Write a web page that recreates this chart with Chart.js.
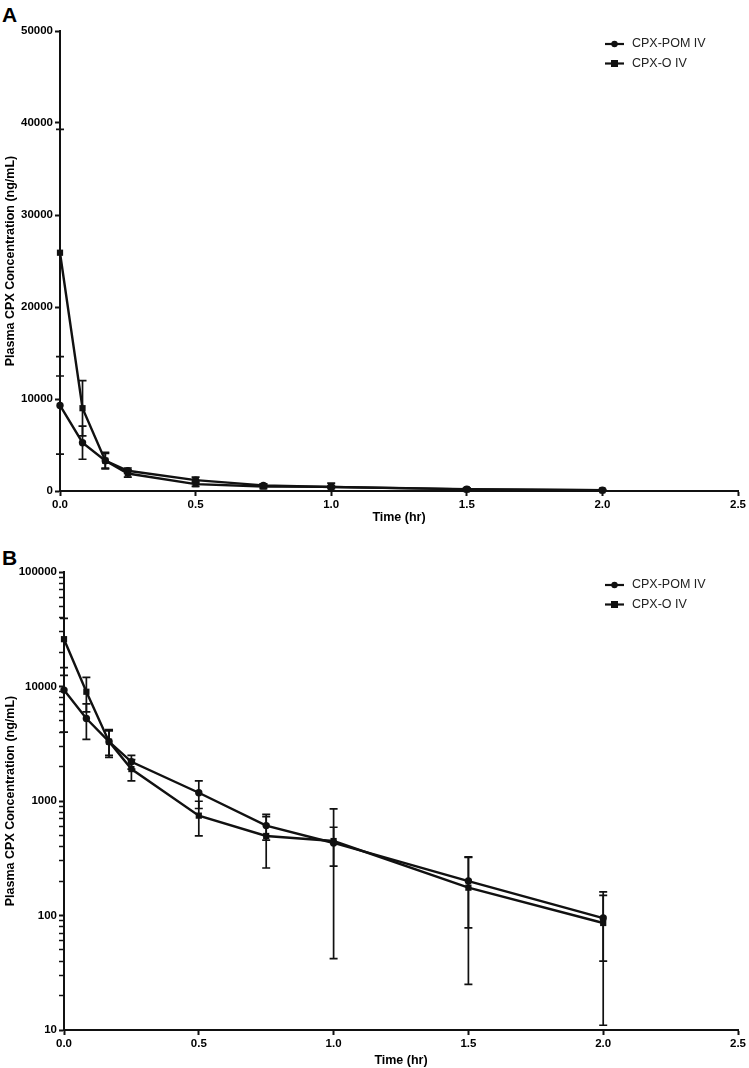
<!DOCTYPE html>
<html lang="en">
<head>
<meta charset="UTF-8">
<title>Plasma CPX Concentration</title>
<script src="https://cdn.jsdelivr.net/npm/chart.js"></script>
<style>
  body { margin: 0; background: #fff; font-family: Arial, "Liberation Sans", sans-serif; }
  .panel { position: absolute; left: 0; }
  .letter { position: absolute; left: 2px; font-weight: bold; font-size: 21px; line-height: 21px; color: #000; }
</style>
</head>
<body>
<div class="letter" style="top:4px">A</div>
<div class="letter" style="top:547px">B</div>
<div class="panel" style="top:0"><canvas id="chartA" width="749" height="525"></canvas></div>
<div class="panel" style="top:525px"><canvas id="chartB" width="749" height="543"></canvas></div>

<script>
// data (mean and SD)
const times = [0, 0.083, 0.167, 0.25, 0.5, 0.75, 1.0, 1.5, 2.0];
const pomMean = [9300, 5250, 3300, 2200, 1180, 610, 430, 200, 95];
const pomSd = [5300, 1800, 800, 300, 320, 155, 160, 122, 55];
const oMean = [25900, 9000, 3300, 1900, 745, 495, 447, 175, 86];
const oSd = [13400, 3000, 900, 400, 250, 235, 405, 150, 75];

const xTicks = [0, 0.5, 1.0, 1.5, 2.0, 2.5];
const yTicksA = [0, 10000, 20000, 30000, 40000, 50000];
const yTicksB = [10, 100, 1000, 10000, 100000];

const seriesNames = ['CPX-POM IV', 'CPX-O IV'];
const INK = '#111';
const tickFont = { family: 'Arial, "Liberation Sans", sans-serif', size: 11.5, weight: 'bold' };
const titleFont = { family: 'Arial, "Liberation Sans", sans-serif', size: 12.5, weight: 'bold' };

function points(means) {
    return times.map((t, i) => ({ x: t, y: means[i] }));
}

function makeDatasets() {
    return [
        { label: seriesNames[0], data: points(pomMean), sd: pomSd, pointStyle: 'circle', pointRadius: 3.7 },
        { label: seriesNames[1], data: points(oMean), sd: oSd, pointStyle: 'rect', pointRadius: 4.4 }
    ].map(d => Object.assign(d, {
        borderColor: INK, backgroundColor: INK, borderWidth: 2.4,
        pointBackgroundColor: INK, pointBorderColor: INK, pointBorderWidth: 0,
        tension: 0, clip: false
    }));
}

// error bars, drawn through the chart scales
const errorBars = {
    id: 'errorBars',
    afterDatasetsDraw(chart) {
        const { ctx, scales: { x, y } } = chart;
        ctx.save();
        ctx.strokeStyle = INK;
        ctx.lineWidth = 1.7;
        chart.data.datasets.forEach(ds => {
            ds.data.forEach((pt, i) => {
                const px = x.getPixelForValue(pt.x);
                const hi = pt.y + ds.sd[i];
                const lo = pt.y - ds.sd[i];
                const pHi = y.getPixelForValue(hi);
                const pLo = lo > 0 ? y.getPixelForValue(lo) : y.bottom;
                ctx.beginPath();
                ctx.moveTo(px, pHi);
                ctx.lineTo(px, pLo);
                ctx.moveTo(px - 4, pHi);
                ctx.lineTo(px + 4, pHi);
                if (lo > 0) {
                    ctx.moveTo(px - 4, pLo);
                    ctx.lineTo(px + 4, pLo);
                }
                ctx.stroke();
            });
        });
        ctx.restore();
    }
};

// legend in the top right of the plot area
const cornerLegend = {
    id: 'cornerLegend',
    afterDraw(chart) {
        const { ctx, chartArea } = chart;
        ctx.save();
        chart.data.datasets.forEach((ds, i) => {
            const yy = chartArea.top + 13 + i * 19.5;
            const x0 = chartArea.right - 133;
            ctx.strokeStyle = INK;
            ctx.lineWidth = 2.2;
            ctx.beginPath();
            ctx.moveTo(x0, yy);
            ctx.lineTo(x0 + 19, yy);
            ctx.stroke();
            ctx.fillStyle = INK;
            if (ds.pointStyle === 'circle') {
                ctx.beginPath();
                ctx.arc(x0 + 9.5, yy, 3.2, 0, Math.PI * 2);
                ctx.fill();
            } else {
                ctx.fillRect(x0 + 6, yy - 3.5, 7, 7);
            }
            ctx.fillStyle = '#222';
            ctx.font = '12.5px Arial, "Liberation Sans", sans-serif';
            ctx.textBaseline = 'middle';
            ctx.fillText(ds.label, x0 + 27, yy);
        });
        ctx.restore();
    }
};

function axisGrid() {
    return {
        drawOnChartArea: false, drawTicks: true, tickLength: 5,
        tickColor: INK, tickWidth: 2
    };
}

function xScale(height) {
    return {
        type: 'linear', min: 0, max: 2.5,
        afterBuildTicks: s => { s.ticks = xTicks.map(v => ({ value: v })); },
        afterFit: s => { s.height = height; },
        border: { color: INK, width: 2 },
        grid: axisGrid(),
        ticks: { color: '#000', font: tickFont, padding: 2, maxRotation: 0, autoSkip: false,
                 callback: v => v.toFixed(1) },
        title: { display: true, text: 'Time (hr)', color: '#000', font: titleFont, padding: { top: 3, bottom: 0 } }
    };
}

function yTitle() {
    return { display: true, text: 'Plasma CPX Concentration (ng/mL)', color: '#000', font: titleFont,
             padding: { top: 3, bottom: 0 } };
}

new Chart(document.getElementById('chartA'), {
    type: 'line',
    data: { datasets: makeDatasets() },
    options: {
        responsive: false, animation: false,
        layout: { padding: { top: 31, right: 11, left: 0, bottom: 0 } },
        plugins: { legend: { display: false }, tooltip: { enabled: false } },
        scales: {
            x: xScale(34),
            y: {
                type: 'linear', min: 0, max: 50000,
                afterBuildTicks: s => { s.ticks = yTicksA.map(v => ({ value: v })); },
                afterFit: s => { s.width = 60; },
                border: { color: INK, width: 2 },
                grid: axisGrid(),
                ticks: { color: '#000', font: tickFont, padding: 2, autoSkip: false,
                         callback: v => String(v) },
                title: yTitle()
            }
        }
    },
    plugins: [errorBars, cornerLegend]
});

new Chart(document.getElementById('chartB'), {
    type: 'line',
    data: { datasets: makeDatasets() },
    options: {
        responsive: false, animation: false,
        layout: { padding: { top: 47, right: 11, left: 0, bottom: 0 } },
        plugins: { legend: { display: false }, tooltip: { enabled: false } },
        scales: {
            x: xScale(38),
            y: {
                type: 'logarithmic', min: 10, max: 100000,
                afterBuildTicks: s => {
                    const t = [];
                    yTicksB.forEach((d, k) => {
                        t.push({ value: d, major: true });
                        if (k < yTicksB.length - 1) {
                            for (let m = 2; m <= 9; m++) t.push({ value: d * m, major: false });
                        }
                    });
                    s.ticks = t;
                },
                afterFit: s => { s.width = 64; },
                border: { color: INK, width: 2 },
                grid: Object.assign(axisGrid(), {
                    tickWidth: c => (c.tick && c.tick.major ? 2 : 1.5)
                }),
                ticks: { color: '#000', font: tickFont, padding: 2, autoSkip: false,
                         callback: v => (yTicksB.includes(v) ? String(v) : '') },
                title: yTitle()
            }
        }
    },
    plugins: [errorBars, cornerLegend]
});
</script>
</body>
</html>
